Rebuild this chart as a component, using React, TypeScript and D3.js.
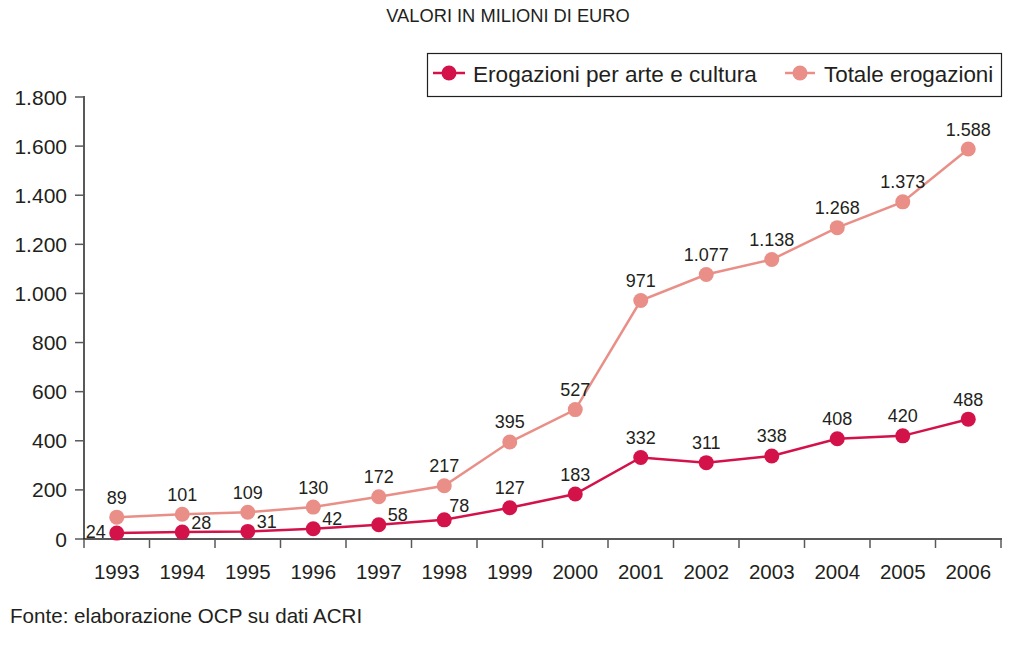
import React from "react";
import * as d3 from "d3";

const years = ["1993","1994","1995","1996","1997","1998","1999","2000","2001","2002","2003","2004","2005","2006"];
const arteCultura = [24, 28, 31, 42, 58, 78, 127, 183, 332, 311, 338, 408, 420, 488];
const totale = [89, 101, 109, 130, 172, 217, 395, 527, 971, 1077, 1138, 1268, 1373, 1588];
const yTicks = [0, 200, 400, 600, 800, 1000, 1200, 1400, 1600, 1800];
const redLabelPlacement = ["left","right","right","right","right","upright","above","above","above","above","above","above","above","above"];

const RED = "#d4124a";
const PINK = "#e98f88";
const TEXT = "#231f20";
const FONT = "'Liberation Sans', Arial, Helvetica, sans-serif";

const fmt = (v: number) => {
  const s = String(v);
  return s.length > 3 ? s.slice(0, s.length - 3) + "." + s.slice(-3) : s;
};

export default function App() {
  const W = 1013, H = 653;
  const x = d3.scaleBand<string>().domain(years).range([84, 1001]).padding(0);
  const y = d3.scaleLinear().domain([0, 1800]).range([539, 97]);
  const cx = (i: number) => (x(years[i]) as number) + x.bandwidth() / 2;
  const line = d3.line<number>().x((_, i) => cx(i)).y((d) => y(d));

  const redOffset = (p: string) => {
    if (p === "left") return [-21, -2];
    if (p === "right") return [19, -10];
    if (p === "upright") return [15, -14];
    return [0, -20];
  };

  return (
    <svg width={W} height={H} style={{ position: "absolute", left: 0, top: 0, fontFamily: FONT }}>
      <rect x={0} y={0} width={W} height={H} fill="#fff" />
      <text x={508} y={22} textAnchor="middle" fontSize={18.3} fill={TEXT}>VALORI IN MILIONI DI EURO</text>

      {/* legend */}
      <rect x={427.5} y={53.5} width={574} height={43} fill="none" stroke={TEXT} strokeWidth={1.2} />
      <line x1={433} x2={465} y1={73} y2={73} stroke={RED} strokeWidth={2.5} />
      <circle cx={449} cy={73} r={7.5} fill={RED} />
      <text x={473} y={82} fontSize={22.6} fill={TEXT}>Erogazioni per arte e cultura</text>
      <line x1={785} x2={815} y1={73} y2={73} stroke={PINK} strokeWidth={2.5} />
      <circle cx={800} cy={73} r={7.5} fill={PINK} />
      <text x={824} y={82} fontSize={22.4} fill={TEXT}>Totale erogazioni</text>

      {/* y axis */}
      <line x1={84} x2={84} y1={96} y2={539} stroke="#58595b" strokeWidth={2} />
      {yTicks.map((t) => (
        <g key={t}>
          <line x1={75} x2={84} y1={y(t)} y2={y(t)} stroke="#58595b" strokeWidth={1.5} />
          <text x={67} y={y(t)} dy="0.36em" textAnchor="end" fontSize={21} fill={TEXT}>{fmt(t)}</text>
        </g>
      ))}

      {/* x axis */}
      <line x1={83} x2={1002} y1={539} y2={539} stroke={TEXT} strokeWidth={1.5} />
      {years.map((yr, i) => (
        <g key={yr}>
          <line x1={x(yr) as number} x2={x(yr) as number} y1={539} y2={548} stroke="#58595b" strokeWidth={1.5} />
          <text x={cx(i)} y={579} textAnchor="middle" fontSize={20.5} fill={TEXT}>{yr}</text>
        </g>
      ))}
      <line x1={1001} x2={1001} y1={539} y2={548} stroke="#58595b" strokeWidth={1.5} />

      {/* totale */}
      <path d={line(totale) || ""} fill="none" stroke={PINK} strokeWidth={2.5} />
      {totale.map((v, i) => (
        <g key={"t" + i}>
          <circle cx={cx(i)} cy={y(v)} r={7.5} fill={PINK} />
          <text x={cx(i)} y={y(v) - 20} dy="0.36em" textAnchor="middle" fontSize={18} fill={TEXT}>{fmt(v)}</text>
        </g>
      ))}

      {/* arte e cultura */}
      <path d={line(arteCultura) || ""} fill="none" stroke={RED} strokeWidth={2.5} />
      {arteCultura.map((v, i) => {
        const [dx, dy] = redOffset(redLabelPlacement[i]);
        return (
          <g key={"r" + i}>
            <circle cx={cx(i)} cy={y(v)} r={7.5} fill={RED} />
            <text x={cx(i) + dx} y={y(v) + dy} dy="0.36em" textAnchor="middle" fontSize={18} fill={TEXT}>{fmt(v)}</text>
          </g>
        );
      })}

      <text x={10} y={623} fontSize={20.6} fill={TEXT}>Fonte: elaborazione OCP su dati ACRI</text>
    </svg>
  );
}
